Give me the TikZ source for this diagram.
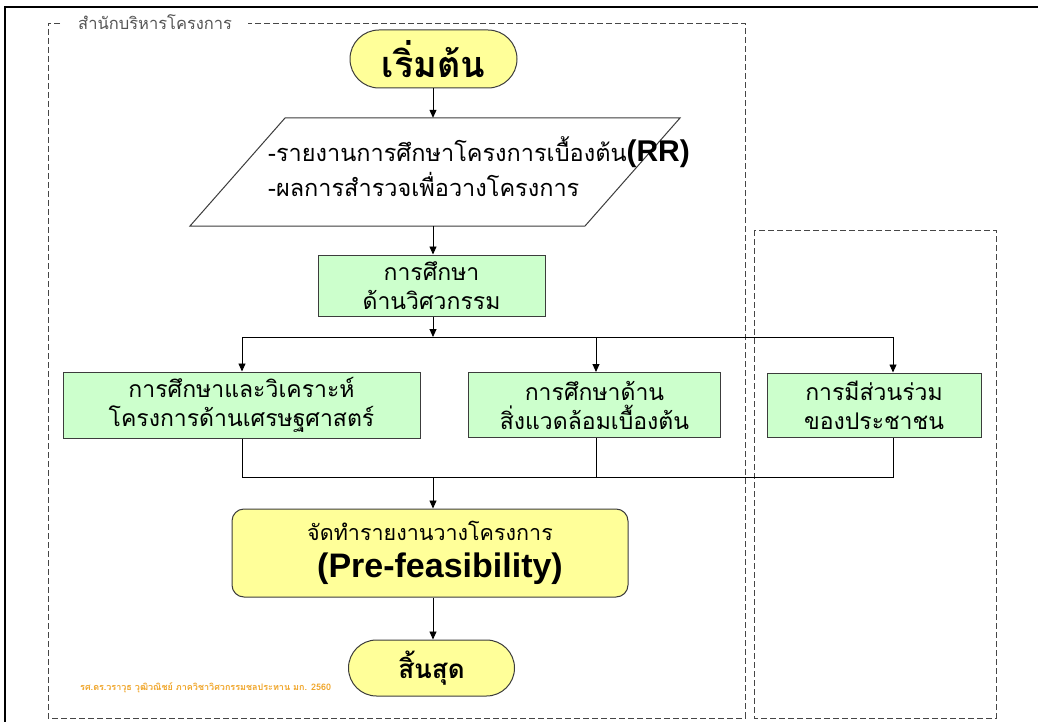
\documentclass[tikz,border=0pt]{standalone}
\usepackage{fontspec}
\setmainfont{Liberation Sans}
\newfontfamily\thai[Script=Thai]{Loma}
\usetikzlibrary{arrows.meta}
\definecolor{boxgreen}{RGB}{204,255,204}
\definecolor{boxyellow}{RGB}{255,255,153}
\definecolor{edge}{RGB}{60,60,60}
\definecolor{dashgray}{RGB}{70,70,70}
\definecolor{titlegray}{RGB}{85,85,85}
\definecolor{footer}{RGB}{240,165,40}
\tikzset{
 arr/.style={-{Triangle[width=7pt,length=8pt]}, line width=0.9pt, black},
 link/.style={line width=0.9pt, black},
 greenbox/.style={draw=edge, fill=boxgreen, line width=1pt, inner sep=0pt, align=center, font=\thai\fontsize{23}{29}\selectfont},
 pill/.style={draw=edge, fill=boxyellow, line width=1pt, inner sep=0pt, align=center},
 zone/.style={draw=dashgray, line width=0.8pt, dash pattern=on 6pt off 3pt},
}
\begin{document}
\begin{tikzpicture}[x=1pt,y=-1pt]
\useasboundingbox (0,0) rectangle (1038,722);
\fill[white] (0,0) rectangle (1038,722);
\draw[line width=2.5pt] (5,722) -- (5,7) -- (1038,7);

% zones
\draw[zone] (60,23) -- (48,23) -- (48,718) -- (745,718) -- (745,23) -- (248,23);
\node[anchor=west, text=titlegray, font=\thai\fontsize{16.5}{18}\selectfont, inner sep=0pt] (title) at (78,22) {สำนักบริหารโครงการ};
\draw[zone] (754,230) rectangle (996,718);

% start
\node[pill, minimum width=167pt, minimum height=58pt, rounded corners=29pt, font=\thai\bfseries\fontsize{36}{40}\selectfont] (start) at (433.5,59) {เริ่มต้น};

% parallelogram
\node[minimum width=300pt, minimum height=108pt, inner sep=0pt] (para) at (433,172) {};
\draw[draw=edge, line width=1pt, fill=white] (285,118) -- (680,118) -- (585,226) -- (190,226) -- cycle;
\node[anchor=west, align=left, inner sep=0pt, font=\thai\fontsize{23.5}{35}\selectfont] (paratext) at (268,167)
 {-รายงานการศึกษาโครงการเบื้องต้น{\rmfamily\bfseries\fontsize{30}{35}\selectfont(RR)}\\-ผลการสำรวจเพื่อวางโครงการ};

% boxes
\node[greenbox, minimum width=227pt, minimum height=61pt] (eng) at (431.5,285.5) {การศึกษา\\ด้านวิศวกรรม};
\node[greenbox, minimum width=357pt, minimum height=66pt] (econ) at (241.5,405) {การศึกษาและวิเคราะห์\\โครงการด้านเศรษฐศาสตร์};
\node[greenbox, minimum width=252pt, minimum height=65pt] (env) at (594.5,405) {การศึกษาด้าน\\สิ่งแวดล้อมเบื้องต้น};
\node[greenbox, minimum width=214pt, minimum height=64pt] (pub) at (874,405) {การมีส่วนร่วม\\ของประชาชน};

\node[pill, minimum width=396pt, minimum height=88pt, rounded corners=12pt, font=\fontsize{34}{37}\selectfont] (report) at (430,553)
 {{\thai\fontsize{21.5}{26}\selectfont จัดทำรายงานวางโครงการ}\\\hspace*{20pt}{\bfseries (Pre-feasibility)}};

\node[pill, minimum width=166pt, minimum height=56pt, rounded corners=28pt, font=\thai\bfseries\fontsize{26}{30}\selectfont] (end) at (431.5,668) {สิ้นสุด};

\node[anchor=west, text=footer, inner sep=0pt, font=\thai\bfseries\fontsize{9}{10}\selectfont] (credit) at (80,688) {รศ.ดร.วราวุธ วุฒิวณิชย์ ภาควิชาวิศวกรรมชลประทาน มก. 2560};

% coordinates
\coordinate (split) at (433,337);
\coordinate (sA) at (242,337);
\coordinate (sB) at (596,337);
\coordinate (sC) at (893,337);
\coordinate (merge) at (433,477);
\coordinate (mA) at (242,477);
\coordinate (mB) at (596,477);
\coordinate (mC) at (893,477);

% connectors
\draw[arr] (start.south -| split) -- (para.north -| split);
\draw[arr] (para.south -| split) -- (eng.north -| split);
\draw[arr] (eng.south -| split) -- (split);
\draw[link] (sA) -- (sC);
\draw[arr] (sA) -- (sA |- econ.north);
\draw[arr] (sB) -- (sB |- env.north);
\draw[arr] (sC) -- (sC |- pub.north);
\draw[link] (mA |- econ.south) -- (mA) -- (mC) -- (mC |- pub.south);
\draw[link] (mB |- env.south) -- (mB);
\draw[arr] (merge) -- (merge |- report.north);
\draw[arr] (report.south -| merge) -- (end.north -| merge);
\end{tikzpicture}
\end{document}
